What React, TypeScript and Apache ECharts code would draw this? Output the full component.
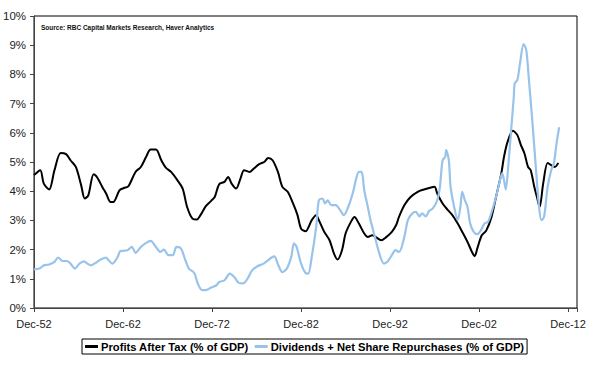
import React, { useEffect, useRef } from "react";
import * as echarts from "echarts";

const START_YEAR = 1952.9;
const AXIS_YEARS = 61;
const SOURCE_TEXT = "Source: RBC Capital Markets Research, Haver Analytics";
const SERIES_NAMES = ["Profits After Tax (% of GDP)", "Dividends + Net Share Repurchases (% of GDP)"];

const profitYears = [
  1952.9, 1953.6, 1954.0, 1954.6, 1955.2, 1955.9, 1956.5, 1957.0, 1957.6, 1958.2,
  1958.6, 1959.0, 1959.6, 1960.0, 1960.6, 1961.0, 1961.5, 1961.8, 1962.5, 1963.0,
  1963.5, 1964.3, 1964.9, 1965.5, 1966.0, 1966.6, 1967.2, 1967.7, 1968.3, 1969.0,
  1969.6, 1970.1, 1970.7, 1971.2, 1971.6, 1972.2, 1972.8, 1973.2, 1973.7, 1974.3,
  1974.7, 1975.1, 1975.6, 1976.1, 1976.5, 1977.1, 1977.6, 1978.2, 1978.8, 1979.2,
  1979.7, 1980.3, 1980.8, 1981.4, 1982.0, 1982.5, 1982.9, 1983.4, 1984.1, 1984.6,
  1984.9, 1985.5, 1986.1, 1986.6, 1987.0, 1987.5, 1987.9, 1988.5, 1988.9, 1989.4,
  1990.0, 1990.4, 1990.9, 1991.3, 1991.9, 1992.4, 1993.1, 1993.6, 1993.9, 1994.5,
  1995.2, 1996.0, 1996.7, 1997.5, 1997.9, 1998.2, 1998.8, 1999.4, 1999.9, 2000.5,
  2001.0, 2001.6, 2002.1, 2002.4, 2002.7, 2003.2, 2003.7, 2004.3, 2004.8, 2005.4,
  2005.7, 2006.1, 2006.7, 2007.2, 2007.6, 2008.0, 2008.4, 2008.7, 2009.1, 2009.4,
  2009.7, 2010.1, 2010.6, 2011.0, 2011.4, 2011.8,
];
const profitValues = [
  4.55, 4.72, 4.26, 4.06, 4.72, 5.31, 5.27, 5.06, 4.83, 4.2,
  3.75, 3.86, 4.58, 4.47, 4.13, 3.92, 3.63, 3.63, 4.03, 4.11,
  4.17, 4.66, 4.83, 5.18, 5.43, 5.43, 5.06, 4.81, 4.66, 4.38,
  4.09, 3.46, 3.06, 3.03, 3.18, 3.49, 3.67, 3.8, 4.24, 4.32,
  4.49, 4.26, 4.09, 4.44, 4.72, 4.66, 4.78, 4.93, 5.01, 5.14,
  5.06, 4.66, 4.15, 3.98, 3.58, 3.18, 2.72, 2.63, 3.01, 3.18,
  3.01, 2.61, 2.32, 1.86, 1.66, 1.98, 2.55, 2.95, 3.12, 2.89,
  2.55, 2.43, 2.49, 2.43, 2.32, 2.41, 2.61, 2.85, 3.12, 3.52,
  3.8, 3.98, 4.06, 4.13, 4.15, 3.92, 3.58, 3.35, 3.18, 2.89,
  2.61, 2.26, 1.92, 1.77, 2.04, 2.49, 2.65, 3.12, 3.8, 4.61,
  5.18, 5.69, 6.07, 5.92, 5.58, 5.29, 4.83, 4.72, 4.15, 3.8,
  3.46, 4.26, 4.97, 4.89, 4.83, 4.97,
];

const payoutYears = [
  1952.9, 1953.5, 1954.0, 1954.6, 1955.2, 1955.6, 1956.1, 1956.6, 1957.0, 1957.5,
  1958.0, 1958.5, 1958.9, 1959.3, 1959.9, 1960.4, 1961.0, 1961.2, 1961.7, 1962.3,
  1962.6, 1963.0, 1963.4, 1963.9, 1964.3, 1964.9, 1965.5, 1966.0, 1966.6, 1967.1,
  1967.5, 1968.0, 1968.5, 1968.9, 1969.4, 1969.9, 1970.3, 1970.9, 1971.3, 1971.8,
  1972.4, 1972.8, 1973.4, 1973.7, 1974.3, 1974.9, 1975.4, 1975.9, 1976.4, 1976.9,
  1977.4, 1978.0, 1978.7, 1979.1, 1979.6, 1979.9, 1980.3, 1980.8, 1981.3, 1981.8,
  1982.1, 1982.4, 1982.9, 1983.4, 1983.7, 1984.1, 1984.6, 1984.9, 1985.3, 1985.6,
  1985.9, 1986.3, 1986.8, 1987.3, 1987.7, 1988.2, 1988.7, 1989.1, 1989.4, 1989.7,
  1990.0, 1990.4, 1990.7, 1991.2, 1991.7, 1992.2, 1992.6, 1993.1, 1993.5, 1993.9,
  1994.5, 1994.9, 1995.4, 1995.8, 1996.2, 1996.5, 1996.9, 1997.3, 1997.7, 1998.2,
  1998.5, 1998.8, 1999.1, 1999.2, 1999.5, 1999.7, 2000.1, 2000.5, 2000.8, 2001.0,
  2001.3, 2001.6, 2001.9, 2002.3, 2002.7, 2003.1, 2003.5, 2003.9, 2004.2, 2004.8,
  2005.3, 2005.5, 2005.8, 2005.9, 2006.2, 2006.5, 2006.8, 2006.9, 2007.2, 2007.5,
  2007.9, 2008.2, 2008.5, 2008.9, 2009.3, 2009.6, 2009.9, 2010.2, 2010.6, 2011.0,
  2011.3, 2011.6, 2011.9,
];
const payoutValues = [
  1.32, 1.35, 1.46, 1.49, 1.58, 1.73, 1.61, 1.61, 1.52, 1.35,
  1.52, 1.6, 1.52, 1.46, 1.56, 1.66, 1.73, 1.66, 1.52, 1.75,
  1.95, 1.96, 1.98, 2.09, 1.89, 2.09, 2.23, 2.3, 2.09, 1.92,
  2.0, 1.81, 1.81, 2.09, 2.04, 1.64, 1.35, 1.2, 0.84, 0.61,
  0.63, 0.7, 0.78, 0.89, 0.95, 1.18, 1.06, 0.86, 0.84, 1.01,
  1.29, 1.43, 1.52, 1.61, 1.73, 1.77, 1.5, 1.23, 1.35, 1.75,
  2.21, 2.09, 1.52, 1.2, 1.18, 1.75, 2.78, 3.69, 3.75, 3.58,
  3.69, 3.52, 3.52, 3.35, 3.18, 3.46, 3.92, 4.44, 4.66, 4.66,
  4.03, 3.46, 3.01, 2.43, 1.86, 1.52, 1.58, 1.81, 1.98, 1.92,
  2.43, 3.01, 3.24, 3.29, 3.14, 3.24, 3.14, 3.33, 3.41, 3.69,
  4.15, 5.06, 5.18, 5.41, 5.06, 4.15, 3.46, 3.01, 3.46, 3.98,
  3.69, 3.46, 2.89, 2.61, 2.53, 2.66, 2.89, 2.95, 3.18, 3.8,
  4.44, 4.61, 4.21, 4.06, 4.95, 6.09, 7.23, 7.69, 7.81, 8.38,
  9.04, 8.83, 7.81, 6.32, 4.72, 3.58, 3.01, 3.12, 4.15, 4.72,
  4.95, 5.64, 6.19,
];

const FONT = "'Liberation Sans', Arial, Helvetica, sans-serif";

export default function App() {
  const ref = useRef<HTMLDivElement>(null);
  useEffect(() => {
    if (!ref.current) return;
    const chart = echarts.init(ref.current, undefined, { renderer: "svg" });
    const toPoints = (ys: number[], vs: number[]) => ys.map((y, i) => [y - START_YEAR, vs[i]]);
    chart.setOption({
      animation: false,
      textStyle: { fontFamily: FONT },
      grid: {
        left: 34,
        right: 18,
        top: 16,
        bottom: 67,
        show: true,
        borderColor: "#000",
        borderWidth: 1,
      },
      graphic: [
        {
          type: "text",
          left: 41,
          top: 24,
          style: {
            text: SOURCE_TEXT,
            fontSize: 6.5,
            fontWeight: "bold",
            fontFamily: FONT,
            fill: "#111",
          },
        },
      ],
      legend: {
        left: 82,
        top: 339,
        padding: [2, 3, 2, 3],
        borderColor: "#000",
        borderWidth: 1,
        itemGap: 6,
        itemWidth: 13,
        itemHeight: 3,
        icon: "rect",
        textStyle: { fontSize: 11.2, fontWeight: "bold", color: "#000", fontFamily: FONT, padding: [0, 0, 0, -2] },
        data: SERIES_NAMES,
      },
      xAxis: {
        type: "value",
        min: 0,
        max: AXIS_YEARS,
        interval: 10,
        splitLine: { show: false },
        axisLine: { show: true, lineStyle: { color: "#444", width: 1 } },
        axisTick: { show: true, length: 4, lineStyle: { color: "#444" } },
        axisLabel: {
          fontSize: 11,
          color: "#222",
          margin: 10,
          fontFamily: FONT,
          formatter: (v: number) => {
            if (Math.abs(v % 10) > 1e-6) return "";
            const yy = Math.round(52 + v) % 100;
            return "Dec-" + String(yy).padStart(2, "0");
          },
        },
      },
      yAxis: {
        type: "value",
        min: 0,
        max: 10,
        interval: 1,
        splitLine: { show: false },
        axisLine: { show: true, lineStyle: { color: "#444", width: 1 } },
        axisTick: { show: true, length: 4, lineStyle: { color: "#444" } },
        axisLabel: {
          fontSize: 11.5,
          color: "#222",
          margin: 8,
          fontFamily: FONT,
          formatter: "{value}%",
        },
      },
      series: [
        {
          name: SERIES_NAMES[0],
          type: "line",
          data: toPoints(profitYears, profitValues),
          showSymbol: false,
          symbol: "none",
          smooth: 0.3,
          lineStyle: { color: "#000", width: 2 },
          itemStyle: { color: "#000" },
        },
        {
          name: SERIES_NAMES[1],
          type: "line",
          data: toPoints(payoutYears, payoutValues),
          showSymbol: false,
          symbol: "none",
          smooth: 0.3,
          lineStyle: { color: "#99C3EB", width: 2.2 },
          itemStyle: { color: "#99C3EB" },
        },
      ],
    });
    return () => chart.dispose();
  }, []);
  return (
    <div
      ref={ref}
      style={{ position: "fixed", left: 0, top: 0, width: 595, height: 375, background: "#fff" }}
    />
  );
}
